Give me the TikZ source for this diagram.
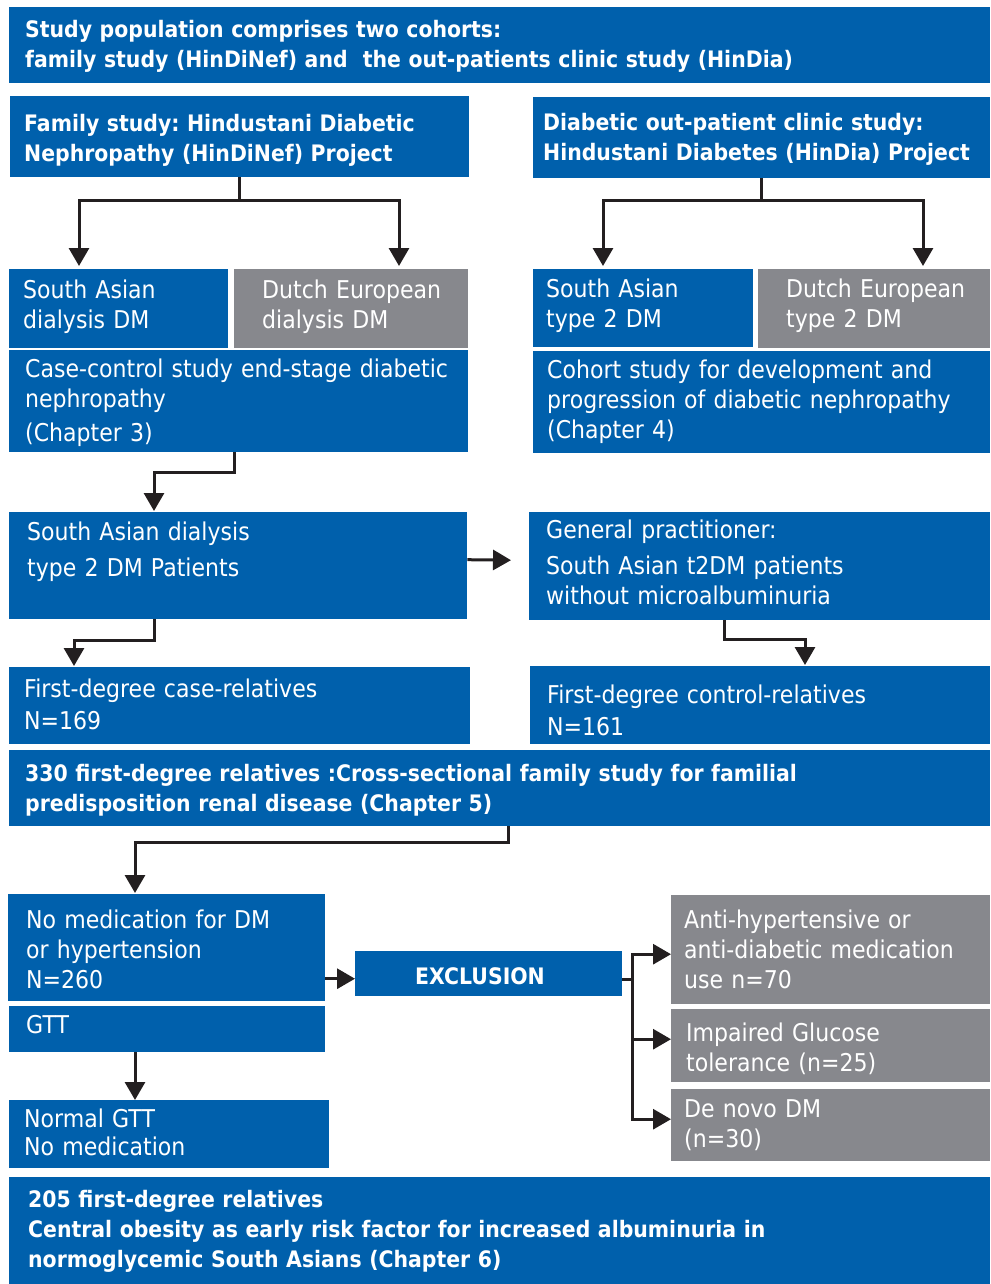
\documentclass[tikz,border=0pt]{standalone}
\usepackage{fontspec}
\setmainfont{DejaVu Sans}[FakeStretch=0.9]
\usetikzlibrary{arrows.meta}
\frenchspacing

\definecolor{boxblue}{RGB}{0,96,172}
\definecolor{boxgray}{RGB}{135,136,141}
\definecolor{linedark}{RGB}{35,31,32}

\tikzset{
  cell/.style={anchor=north west, inner sep=0pt, text=white, font=\fontsize{24.5pt}{30pt}\selectfont},
  bluecell/.style={cell, fill=boxblue},
  graycell/.style={cell, fill=boxgray},
  headcell/.style={bluecell, font=\fontsize{22.7pt}{30pt}\selectfont\bfseries},
  lpad/.style={execute at begin node={\leftskip=#1\rightskip=0pt plus 1fil\relax}},
  link/.style={line width=3pt, draw=linedark},
  flow/.style={link, -{Triangle[length=18pt,width=20pt]}}
}

\begin{document}
\begin{tikzpicture}[x=1pt, y=-1pt]
      \useasboundingbox (0,0) rectangle (990,1284);

      % Header
      \node[headcell, lpad=16pt, text width=981pt, text height=30.3pt, text depth=45.7pt] (pop) at (9,7)
          {Study population comprises two cohorts:\\family study (HinDiNef) and~ the out-patients clinic study (HinDia)};

      % Family study branch
      \node[headcell, lpad=14pt, text width=459pt, text height=35pt, text depth=46pt] (fam) at (10,96)
          {Family study: Hindustani Diabetic\\Nephropathy (HinDiNef) Project};
      \node[bluecell, lpad=14pt, text width=219pt, text height=29.3pt, text depth=49.7pt] (saD) at (9,269)
          {South Asian\\dialysis DM};
      \node[graycell, lpad=28pt, text width=234pt, text height=29.3pt, text depth=49.7pt] (duD) at (234,269)
          {Dutch European\\dialysis DM};
      \node[bluecell, lpad=16pt, text width=459pt, text height=27.3pt, text depth=74.7pt] (cc) at (9,350)
          {Case-control study end-stage diabetic\\nephropathy\\[4pt](Chapter 3)};

      % Out-patient clinic branch
      \node[headcell, lpad=10pt, text width=457pt, text height=33pt, text depth=48pt] (dia) at (533,97)
          {Diabetic out-patient clinic study:\\Hindustani Diabetes (HinDia) Project};
      \node[bluecell, lpad=13pt, text width=220pt, text height=28.3pt, text depth=49.7pt] (sa2) at (533,269)
          {South Asian\\type 2 DM};
      \node[graycell, lpad=28pt, text width=232pt, text height=28.3pt, text depth=50.7pt] (du2) at (758,269)
          {Dutch European\\type 2 DM};
      \node[bluecell, lpad=14pt, text width=457pt, text height=27.3pt, text depth=74.7pt] (coh) at (533,351)
          {Cohort study for development and\\progression of diabetic nephropathy\\(Chapter 4)};

      % Cases and controls
      \node[bluecell, lpad=18pt, text width=458pt, text height=28pt, text depth=79pt] (sadp) at (9,512)
          {South Asian dialysis\\[6pt]type 2 DM Patients};
      \node[bluecell, lpad=17pt, text width=461pt, text height=26.7pt, text depth=81.3pt] (gp) at (529,512)
          {General practitioner:\\[6pt]South Asian t2DM patients\\without microalbuminuria};
      \node[bluecell, lpad=15pt, text width=461pt, text height=30.7pt, text depth=46.3pt] (cr) at (9,667)
          {First-degree case-relatives\\[2pt]N=169};
      \node[bluecell, lpad=17pt, text width=460pt, text height=37.3pt, text depth=40.7pt] (ctr) at (530,666)
          {First-degree control-relatives\\[2pt]N=161};
      \node[headcell, lpad=16pt, text width=981pt, text height=31.7pt, text depth=44.3pt] (fdr) at (9,750)
          {330 first-degree relatives :Cross-sectional family study for familial\\predisposition renal disease (Chapter 5)};

      % Selection of normoglycemic relatives
      \node[bluecell, lpad=18pt, text width=317pt, text height=34pt, text depth=73pt] (nomed) at (8,894)
          {No medication for DM\\or hypertension\\N=260};
      \node[bluecell, lpad=17pt, text width=316pt, text height=27pt, text depth=19pt] (gtt) at (9,1006)
          {GTT};
      \node[bluecell, lpad=15pt, text width=320pt, text height=27pt, text depth=41pt] (ngtt) at (9,1100)
          {Normal GTT\\[-2pt]No medication};
      \node[headcell, lpad=60pt, text width=267pt, text height=33pt, text depth=12pt] (excl) at (355,951)
          {EXCLUSION};
      \node[graycell, lpad=13pt, text width=319pt, text height=33pt, text depth=76pt] (ahm) at (671,895)
          {Anti-hypertensive or\\anti-diabetic medication\\use n=70};
      \node[graycell, lpad=15pt, text width=319pt, text height=32pt, text depth=41pt] (igt) at (671,1009)
          {Impaired Glucose\\tolerance (n=25)};
      \node[graycell, lpad=13pt, text width=319pt, text height=28pt, text depth=44pt] (dnd) at (671,1089)
          {De novo DM\\(n=30)};
      \node[headcell, lpad=19pt, text width=981pt, text height=30.7pt, text depth=76.3pt] (res) at (9,1177)
          {205 first-degree relatives\\Central obesity as early risk factor for increased albuminuria in\\normoglycemic South Asians (Chapter 6)};

      % Connectors
      \draw[flow] (fam.south) -- ++(0,23) -| ([xshift=70pt,yshift=3pt]saD.north west);
      \draw[flow] (fam.south) -- ++(0,23) -| ([xshift=165pt,yshift=3pt]duD.north west);
      \draw[flow] (dia.south) -- ++(0,22) -| ([xshift=70pt,yshift=3pt]sa2.north west);
      \draw[flow] (dia.south) -- ++(0,22) -| ([xshift=165pt,yshift=3pt]du2.north west);

      \draw[flow] ([xshift=-4pt]cc.south) -- ++(0,20) -| ([xshift=145pt,yshift=1pt]sadp.north west);
      \draw[flow] ([yshift=6pt]sadp.east) -- ([xshift=-18pt,yshift=6pt]gp.west);
      \draw[flow] ([xshift=145pt]sadp.south west) -- ++(0,21) -| ([xshift=65pt,yshift=1pt]cr.north west);
      \draw[flow] ([xshift=195pt]gp.south west) -- ++(0,19) -| ([xshift=275pt,yshift=1pt]ctr.north west);
      \draw[flow] ([xshift=499pt]fdr.south west) -- ++(0,16) -| ([xshift=127pt,yshift=1pt]nomed.north west);

      \draw[flow] ([yshift=-31pt]nomed.east) -- ([yshift=-5pt]excl.west);
      \draw[flow] ([xshift=126pt]gtt.south west) -- ([xshift=126pt]ngtt.north west);
      \draw[link] ([yshift=-6pt]excl.east) -- ++(10,0) coordinate (fork);
      \foreach \dst/\dy in {ahm/-4.5, igt/6.5, dnd/6}
          \draw[flow] (fork) |- ([yshift=\dy pt]\dst.west);
\end{tikzpicture}
\end{document}
